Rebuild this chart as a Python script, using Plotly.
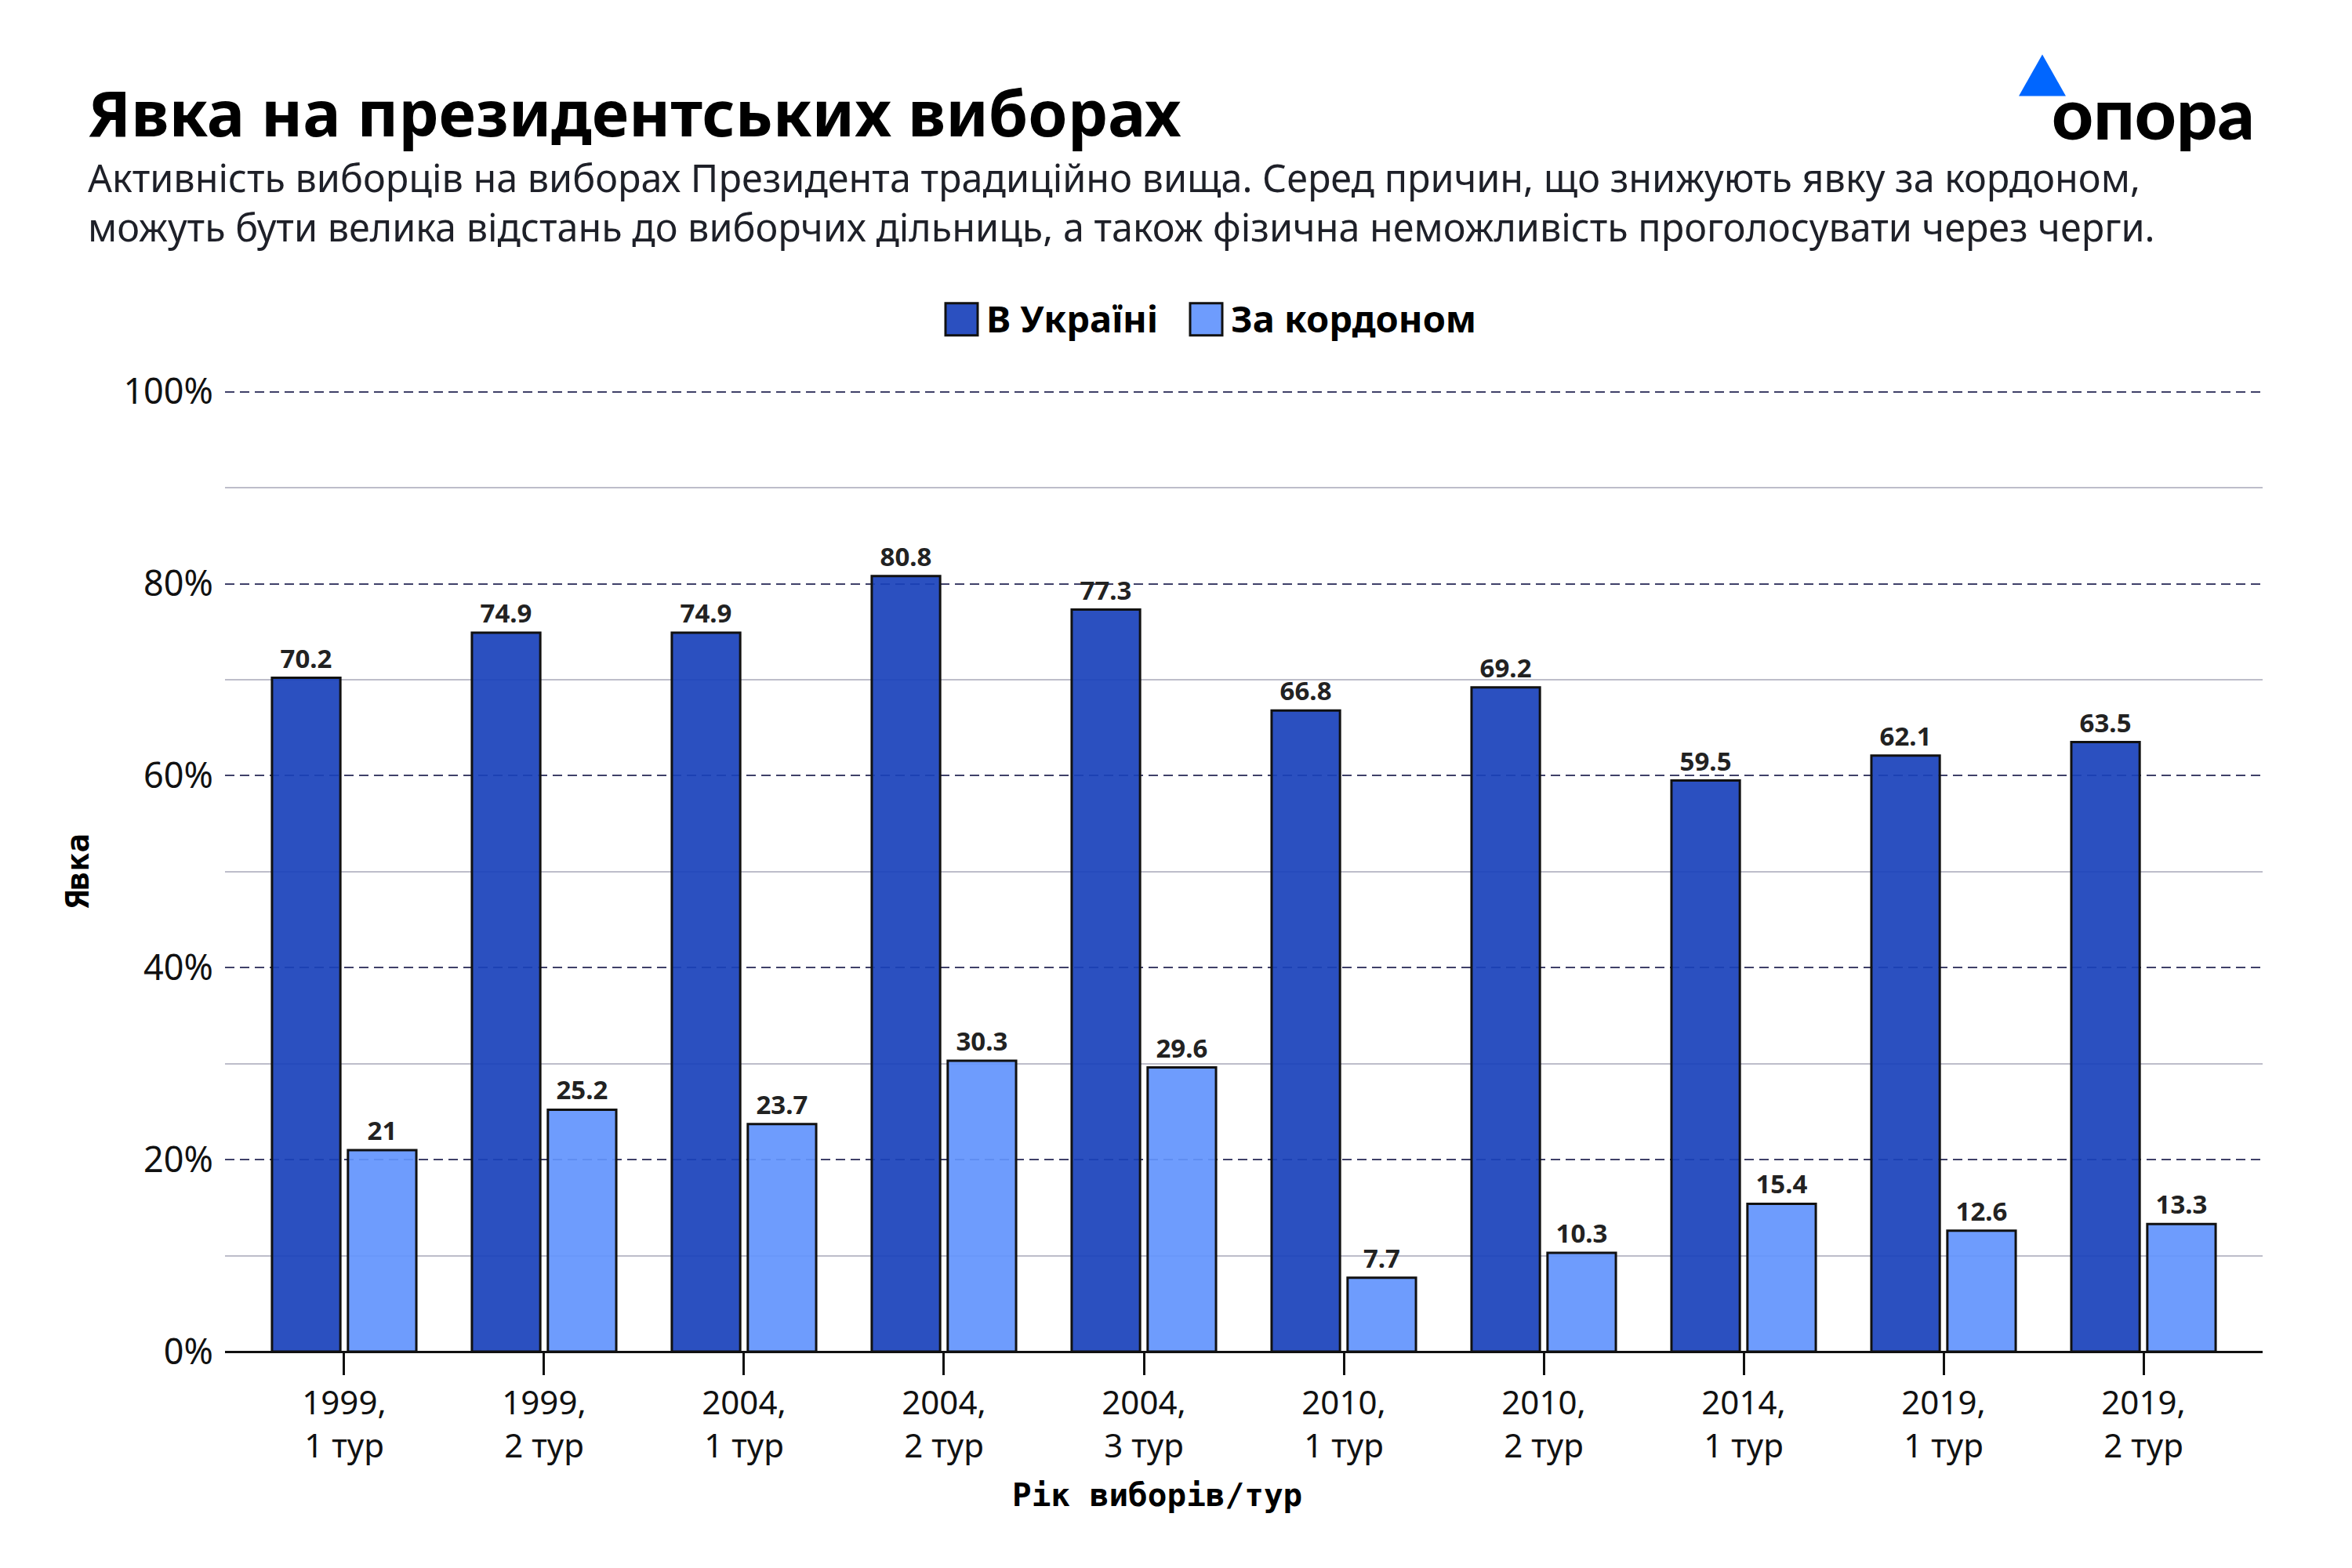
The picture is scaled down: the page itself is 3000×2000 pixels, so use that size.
"""Явка на президентських виборах: в Україні vs за кордоном, grouped bars."""

import plotly.graph_objects as go

OFF = 8  # page body margin the browser adds around the figure
W, H = 3000 - OFF, 2000 - OFF
Y_MAX = 100.3
# plot area in reference pixels
PL, PR, PB = 287, 2886, 1724
PT = PB - (1724 - 500) * Y_MAX / 100

ROUNDS = [
    "1999,<br>1 тур", "1999,<br>2 тур", "2004,<br>1 тур", "2004,<br>2 тур",
    "2004,<br>3 тур", "2010,<br>1 тур", "2010,<br>2 тур", "2014,<br>1 тур",
    "2019,<br>1 тур", "2019,<br>2 тур",
]
UKRAINE = [70.2, 74.9, 74.9, 80.8, 77.3, 66.8, 69.2, 59.5, 62.1, 63.5]
ABROAD = [21, 25.2, 23.7, 30.3, 29.6, 7.7, 10.3, 15.4, 12.6, 13.3]
SERIES_NAMES = ["В Україні", "За кордоном"]
Y_TICKS = [0, 20, 40, 60, 80, 100]
Y_TICK_TEXT = ["0%", "20%", "40%", "60%", "80%", "100%"]
Y_MINOR = [10, 30, 50, 70, 90]

TITLE = "Явка на президентських виборах"
SUBTITLE = [
    "Активність виборців на виборах Президента традиційно вища. Серед причин, що знижують явку за кордоном,",
    "можуть бути велика відстань до виборчих дільниць, а також фізична неможливість проголосувати через черги.",
]

DARK = "rgba(25,65,187,0.92)"
LIGHT = "rgba(98,148,253,0.92)"
SANS = "Noto Sans"
MONO = "DejaVu Sans Mono"


def px_x(px):
    return (px - PL) / (PR - PL)


def px_y(py):
    return (PB - py) / (PB - PT)


fig = go.Figure()
for name, vals, color in [(SERIES_NAMES[0], UKRAINE, DARK), (SERIES_NAMES[1], ABROAD, LIGHT)]:
    fig.add_trace(go.Bar(
        x=ROUNDS, y=vals, name=name,
        marker=dict(color=color, line=dict(color="#111111", width=3)),
        text=[f"{v:g}" for v in vals], texttemplate="%{text}", textposition="outside",
        textfont=dict(family=SANS, size=33, color="#222222", weight="bold"),
        constraintext="none", cliponaxis=False, showlegend=False,
    ))

fig.update_layout(
    width=W, height=H, autosize=False,
    margin=dict(l=PL - OFF, r=W - (PR - OFF), t=PT - OFF, b=H - (PB - OFF)),
    paper_bgcolor="white", plot_bgcolor="white",
    barmode="group", bargap=0.24, bargroupgap=0.1,
    font=dict(family=SANS, color="#111111"),
)
fig.update_xaxes(
    range=[-0.596, 9.596], showgrid=False,
    ticks="outside", ticklen=29, tickwidth=3, tickcolor="#111111",
    tickfont=dict(family=SANS, size=42, color="#111111"),
    showline=False,
)
fig.update_yaxes(
    range=[0, Y_MAX], tickmode="array", tickvals=Y_TICKS, ticktext=Y_TICK_TEXT,
    tickfont=dict(family=SANS, size=45, color="#111111"),
    ticklabelstandoff=14,
    showgrid=True, gridcolor="#3f4068", gridwidth=1.5, griddash="12px,7px",
    minor=dict(tickmode="array", tickvals=Y_MINOR, showgrid=True, gridcolor="#bdbdca",
               gridwidth=2, griddash="solid"),
    zeroline=True, zerolinecolor="#111111", zerolinewidth=3,
)

ann = []
ann.append(dict(text=f"<b>{TITLE}</b>", x=px_x(110), y=px_y(143), xanchor="left", yanchor="middle",
                font=dict(family=SANS, size=81, color="#000000")))
ann.append(dict(text="<br>".join(SUBTITLE), x=px_x(110), y=px_y(258), xanchor="left", yanchor="middle",
                align="left", font=dict(family=SANS, size=48.5, color="#1e2028")))
# custom legend (plotly bar legend swatches do not scale)
shapes = []
leg = [(1206, DARK, SERIES_NAMES[0]), (1518, LIGHT, SERIES_NAMES[1])]
for x0, color, name in leg:
    shapes.append(dict(type="rect", xref="paper", yref="paper",
                       x0=px_x(x0), x1=px_x(x0 + 41), y0=px_y(428), y1=px_y(387),
                       fillcolor=color, line=dict(color="#111111", width=3)))
    ann.append(dict(text=f"<b>{name}</b>", x=px_x(x0 + 50), y=px_y(406), xanchor="left", yanchor="middle",
                    font=dict(family=SANS, size=47, color="#000000")))
# axis titles
ann.append(dict(text="<b>Явка</b>", x=px_x(99), y=px_y(1112), textangle=-90,
                xanchor="center", yanchor="middle", font=dict(family=MONO, size=40, color="#000000")))
ann.append(dict(text="<b>Рік виборів/тур</b>", x=px_x(1476), y=px_y(1907),
                xanchor="center", yanchor="middle", font=dict(family=MONO, size=41, color="#000000")))
# logo
shapes.append(dict(type="path", xref="paper", yref="paper",
                   path=f"M {px_x(2575)} {px_y(123)} L {px_x(2605)} {px_y(70)} L {px_x(2635)} {px_y(123)} Z",
                   fillcolor="#0066ff", line=dict(width=0)))
ann.append(dict(text="опора", x=px_x(2746), y=px_y(143), xanchor="center", yanchor="middle",
                font=dict(family="Lato", size=92, color="#000000", weight=900)))

for a in ann:
    a.setdefault("xref", "paper")
    a.setdefault("yref", "paper")
    a["showarrow"] = False
fig.update_layout(annotations=ann, shapes=shapes)

fig.write_html("out.html")
